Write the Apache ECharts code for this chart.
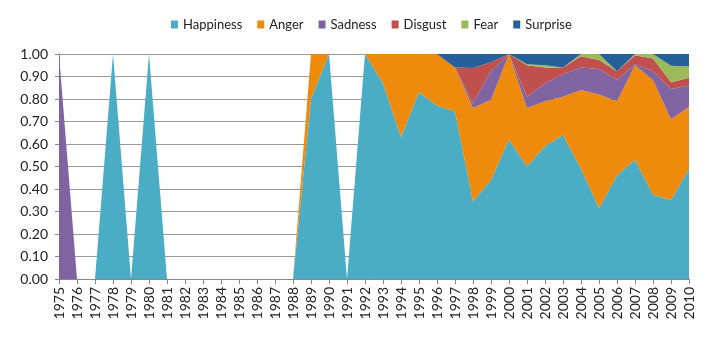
<!DOCTYPE html>
<html>
<head>
<meta charset="utf-8">
<script src="https://cdn.jsdelivr.net/npm/echarts@6/dist/echarts.min.js"></script>
<style>html,body{margin:0;padding:0;background:#fff;}#c{width:709px;height:338px;}</style>
</head>
<body>
<div id="c"></div>
<script>
var years = ['1975','1976','1977','1978','1979','1980','1981','1982','1983','1984','1985','1986','1987','1988','1989','1990','1991','1992','1993','1994','1995','1996','1997','1998','1999','2000','2001','2002','2003','2004','2005','2006','2007','2008','2009','2010'];
var seriesNames = ['Happiness','Anger','Sadness','Disgust','Fear','Surprise'];
//                1975..............................................1988 1989 1990 1991 1992 1993 1994 1995 1996 1997  1998  1999  2000 2001 2002 2003 2004 2005  2006  2007 2008  2009 2010
var happiness = [0,0,0,1,0,1,0,0,0,0,0,0,0,0,0.80,1,0,1,0.87,0.63,0.83,0.77,0.745,0.345,0.44,0.62,0.50,0.59,0.64,0.49,0.315,0.46,0.53,0.375,0.35,0.49];
var anger     = [0,0,0,0,0,0,0,0,0,0,0,0,0,0,0.20,0,0,0,0.13,0.37,0.17,0.23,0.195,0.415,0.357,0.38,0.26,0.20,0.17,0.35,0.505,0.33,0.42,0.51,0.36,0.275];
var sadness   = [1,0,0,0,0,0,0,0,0,0,0,0,0,0,0,0,0,0,0,0,0,0,0,0.022,0.126,0,0.05,0.08,0.10,0.10,0.113,0.096,0.005,0.04,0.135,0.095];
var disgust   = [0,0,0,0,0,0,0,0,0,0,0,0,0,0,0,0,0,0,0,0,0,0,0,0.156,0.04,0,0.14,0.07,0.03,0.05,0.04,0.037,0.04,0.055,0.03,0.035];
var fear      = [0,0,0,0,0,0,0,0,0,0,0,0,0,0,0,0,0,0,0,0,0,0,0,0,0,0,0.005,0.01,0,0.01,0.027,0,0.005,0.02,0.073,0.05];
var surprise  = [0,0,0,0,0,0,0,0,0,0,0,0,0,0,0,0,0,0,0,0,0,0,0.06,0.062,0.037,0,0.045,0.05,0.06,0,0,0.077,0,0,0.052,0.055];
var yTicks = [0,0.1,0.2,0.3,0.4,0.5,0.6,0.7,0.8,0.9,1.0];

var colors = ['#4BACC6','#EE8A0C','#8064A2','#C0504D','#9BBB59','#25609A'];
var dataArr = [happiness, anger, sadness, disgust, fear, surprise];
var font = 'Lato, "Open Sans", sans-serif';

var chart = echarts.init(document.getElementById('c'), null, {renderer:'canvas'});
chart.setOption({
  animation:false,
  color: colors,
  legend: {
    top: 13, left: 166,
    itemWidth: 7, itemHeight: 8, itemGap: 15,
    icon: 'rect',
    textStyle: {fontFamily: font, fontSize: 13, color: '#222'},
    data: seriesNames
  },
  grid: {left: 59, right: 20, top: 54, bottom: 59, containLabel: false},
  xAxis: {
    type: 'category', boundaryGap: false, data: years,
    axisLine: {lineStyle: {color: '#888', width: 1}},
    axisTick: {show: true, interval: 0, length: 5, lineStyle: {color: '#888'}},
    axisLabel: {interval: 0, rotate: 90, fontFamily: font, fontSize: 14, color: '#222', margin: 8}
  },
  yAxis: {
    type: 'value', min: 0, max: 1, interval: 0.1,
    axisLine: {show: true, lineStyle: {color: '#888'}},
    axisTick: {show: true, length: 4, lineStyle: {color: '#888'}},
    splitLine: {show: true, lineStyle: {color: '#999', width: 1}},
    axisLabel: {fontFamily: font, fontSize: 14, color: '#222', margin: 11,
      formatter: function(v){ return v.toFixed(2); }}
  },
  series: seriesNames.map(function(n, i){
    return {
      name: n, type: 'line', stack: 'total', data: dataArr[i],
      symbol: 'none', showSymbol: false,
      lineStyle: {width: 0},
      areaStyle: {opacity: 1, color: colors[i]},
      z: 2
    };
  })
});
</script>
</body>
</html>
